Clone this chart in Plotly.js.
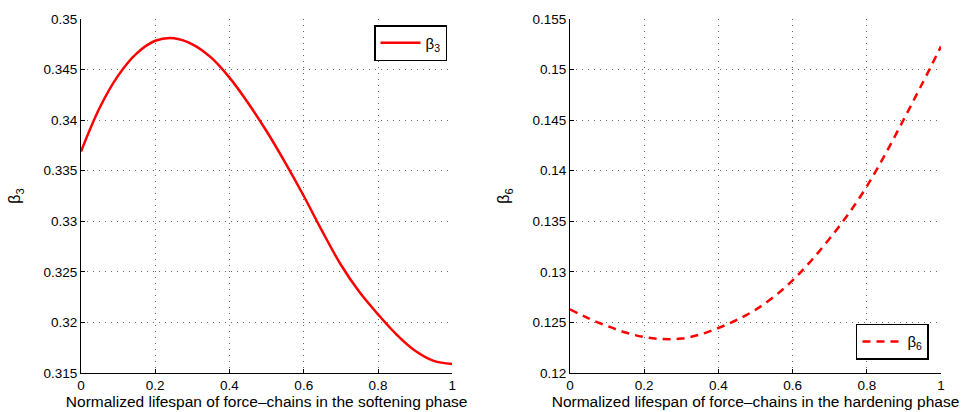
<!DOCTYPE html>
<html><head><meta charset="utf-8">
<script src="https://cdn.plot.ly/plotly-3.0.1.min.js"></script>
<style>html,body{margin:0;padding:0;background:#fff}#chart{width:974px;height:412px}</style>
</head><body><div id="chart"></div>
<script>
// Left panel: softening phase
var xSoft = [0, 0.05, 0.1, 0.15, 0.2, 0.25, 0.3, 0.35, 0.4, 0.45, 0.5, 0.55, 0.6, 0.65, 0.7, 0.75, 0.8, 0.85, 0.9, 0.95, 1.0];
var beta3 = [0.3369, 0.3412, 0.3444, 0.3466, 0.34785, 0.3481, 0.3475, 0.3462, 0.3442, 0.3417, 0.3389, 0.3358, 0.3325, 0.3290, 0.3257, 0.3230, 0.3208, 0.3188, 0.3172, 0.3162, 0.3159];
// Right panel: hardening phase
var xHard = [0, 0.05, 0.1, 0.15, 0.2, 0.25, 0.3, 0.35, 0.4, 0.45, 0.5, 0.55, 0.6, 0.65, 0.7, 0.75, 0.8, 0.85, 0.9, 0.95, 1.0];
var beta6 = [0.1263, 0.1254, 0.12465, 0.1240, 0.12355, 0.12335, 0.1234, 0.1238, 0.12445, 0.12525, 0.12625, 0.12755, 0.12915, 0.1311, 0.1333, 0.1357, 0.13845, 0.14165, 0.1451, 0.14865, 0.15229];
var xTicks = [0, 0.2, 0.4, 0.6, 0.8, 1];
var xTickText = ['0', '0.2', '0.4', '0.6', '0.8', '1'];
var y1Ticks = [0.315, 0.32, 0.325, 0.33, 0.335, 0.34, 0.345, 0.35];
var y1TickText = ['0.315', '0.32', '0.325', '0.33', '0.335', '0.34', '0.345', '0.35'];
var y2Ticks = [0.12, 0.125, 0.13, 0.135, 0.14, 0.145, 0.15, 0.155];
var y2TickText = ['0.12', '0.125', '0.13', '0.135', '0.14', '0.145', '0.15', '0.155'];
var xTitle1 = 'Normalized lifespan of force\u2013chains in the softening phase';
var xTitle2 = 'Normalized lifespan of force\u2013chains in the hardening phase';

var font = {family: 'Liberation Sans, Arial, sans-serif', size: 13.5, color: '#000'};

var traces = [
  {x: xSoft, y: beta3, type: 'scatter', mode: 'lines', name: '\u03b2<sub>3</sub>',
   line: {color: '#ff0000', width: 2.5, shape: 'spline', smoothing: 1}, xaxis: 'x', yaxis: 'y', legend: 'legend'},
  {x: xHard, y: beta6, type: 'scatter', mode: 'lines', name: '\u03b2<sub>6</sub>',
   line: {color: '#ff0000', width: 2.5, shape: 'spline', smoothing: 1, dash: '8px,6px'}, xaxis: 'x2', yaxis: 'y2', legend: 'legend2'}
];

function xax(dom, anchor, title) {
  return {domain: dom, anchor: anchor, range: [0, 1], tickvals: xTicks, ticktext: xTickText,
    showgrid: true, gridcolor: '#666', griddash: '1px,5px', gridwidth: 1,
    showline: true, linecolor: '#000', linewidth: 1, mirror: false,
    ticks: 'inside', ticklen: 4, tickcolor: '#000', zeroline: false,
    tickfont: {size: 13.5}, title: {text: title, font: {size: 15.5}, standoff: 1}};
}
function yax(anchor, range, tv, tt, title) {
  return {anchor: anchor, range: range, tickvals: tv, ticktext: tt,
    showgrid: true, gridcolor: '#666', griddash: '1px,5px', gridwidth: 1,
    showline: true, linecolor: '#000', linewidth: 1,
    ticks: 'inside', ticklen: 4, tickcolor: '#000', zeroline: false,
    tickfont: {size: 13.5}, title: {text: title, font: {size: 16}, standoff: 18}};
}

var layout = {
  width: 974, height: 412, font: font,
  paper_bgcolor: '#fff', plot_bgcolor: '#fff',
  margin: {l: 81, r: 33, t: 19, b: 39},
  showlegend: true,
  xaxis: xax([0, 0.4317], 'y', xTitle1),
  yaxis: yax('x', [0.315, 0.35], y1Ticks, y1TickText, '\u03b2<sub>3</sub>'),
  xaxis2: xax([0.5686, 1], 'y2', xTitle2),
  yaxis2: yax('x2', [0.12, 0.155], y2Ticks, y2TickText, '\u03b2<sub>6</sub>'),
  legend: {x: 0.4256, xanchor: 'right', y: 0.983, yanchor: 'top', bgcolor: '#fff',
    bordercolor: '#000', borderwidth: 1.5, font: {size: 15}, itemwidth: 40},
  legend2: {x: 0.986, xanchor: 'right', y: 0.0376, yanchor: 'bottom', bgcolor: '#fff',
    bordercolor: '#000', borderwidth: 1.5, font: {size: 15}, itemwidth: 40}
};

Plotly.newPlot('chart', traces, layout, {displayModeBar: false, staticPlot: true});
</script></body></html>
